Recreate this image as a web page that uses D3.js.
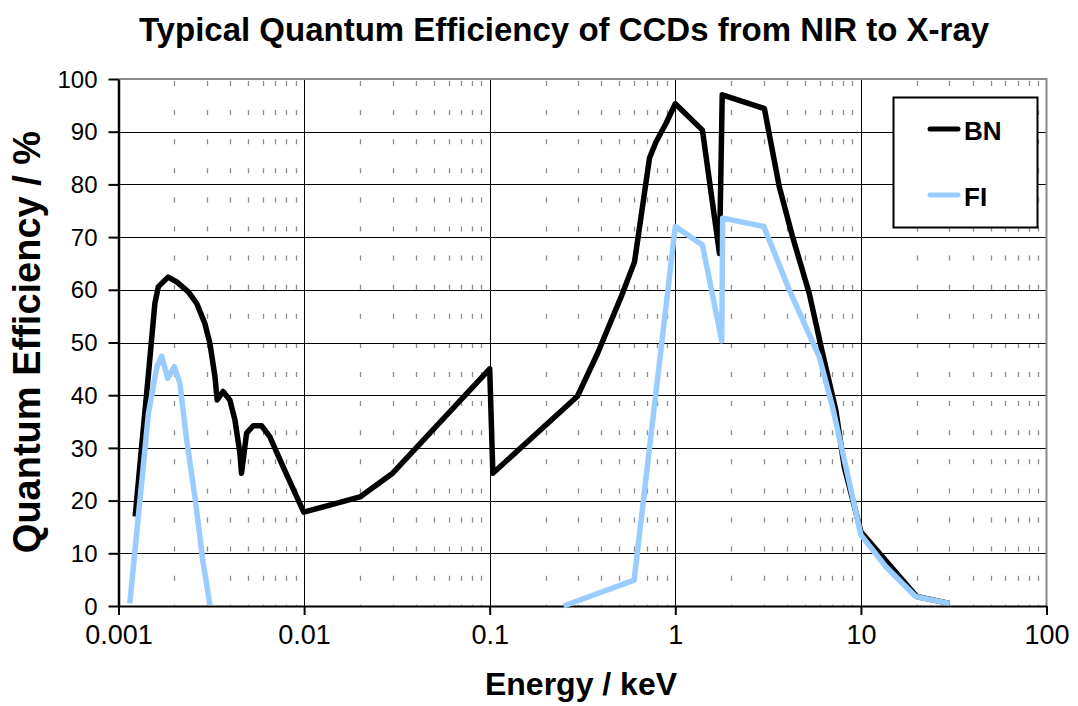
<!DOCTYPE html>
<html>
<head>
<meta charset="utf-8">
<script src="https://cdn.jsdelivr.net/npm/d3@7"></script>
<style>
  body { margin: 0; background: #fff; }
  svg { display: block; }
  text { font-family: Arial, "Liberation Sans", sans-serif; fill: #000; }
</style>
</head>
<body>
<svg id="chart" width="1078" height="706"></svg>
<script>
// Axis ticks
const xTicks = [0.001, 0.01, 0.1, 1, 10, 100];
const xTickLabels = ["0.001", "0.01", "0.1", "1", "10", "100"];
const yTicks = [0, 10, 20, 30, 40, 50, 60, 70, 80, 90, 100];

// Back-illuminated (BN) CCD: energy in keV, quantum efficiency in %
const bnEnergy = [0.00123, 0.00133, 0.00145, 0.00157, 0.00164, 0.00185, 0.00206, 0.00238,
  0.00264, 0.00292, 0.00311, 0.00331, 0.0034, 0.00366, 0.00398, 0.00424, 0.00451, 0.0046,
  0.0049, 0.00532, 0.0059, 0.00654, 0.00771, 0.00996, 0.02, 0.03, 0.1, 0.104, 0.297, 0.382,
  0.511, 0.603, 0.726, 0.788, 0.892, 1.0, 1.40, 1.73, 1.79, 3.02, 3.63, 4.28, 5.27, 6.21,
  7.33, 8.13, 10, 20, 30];
const bnQE = [17, 30, 44, 57.4, 60.6, 62.4, 61.5, 59.6,
  57.4, 53.6, 49.8, 43.5, 39.1, 40.7, 39.1, 35.3, 29.0, 25.2,
  32.8, 34.2, 34.2, 32.1, 26.4, 17.8, 20.7, 25.2, 45, 25.2, 39.8, 48,
  58.7, 65.3, 85, 88.1, 91.6, 95.3, 90.3, 66.9, 97, 94.4, 79.6, 70.1, 59.3, 48,
  37.1, 26.4, 14.1, 1.8, 0.5];

// Front-illuminated (FI) CCD; null marks the range with no data
const fiEnergy = [0.00115, 0.00131, 0.00145, 0.00161, 0.00171, 0.00184, 0.0020, 0.00214,
  0.00233, 0.00258, 0.00286, 0.00311, 0.03, 0.25, 0.60, 1.0, 1.40, 1.78, 1.80, 3.0, 4.11,
  5.96, 7.03, 8.30, 10, 13.6, 19.7, 30];
const fiQE = [0.5, 20.7, 36.6, 45.4, 47.4, 43.2, 45.4, 42.3,
  31.5, 20.7, 8.1, 0.2, null, 0, 4.9, 72, 68.5, 50.3, 73.6, 72, 60,
  47.3, 37.8, 26.4, 13.5, 7.5, 1.8, 0.5];

const seriesNames = ["BN", "FI"];
const seriesColors = ["#000000", "#99ccff"];

const svg = d3.select("#chart");
const plotLeft = 118.5, plotRight = 1046.5, plotTop = 79, plotBottom = 606;

const x = d3.scaleLog().domain([0.001, 100]).range([plotLeft, plotRight]);
const y = d3.scaleLinear().domain([0, 100]).range([plotBottom, plotTop]);

// Minor (dashed) vertical grid at 2..9 of each decade
const minor = [];
xTicks.slice(0, -1).forEach(d => { for (let k = 2; k <= 9; k++) minor.push(d * k); });
svg.append("g").selectAll("line").data(minor).join("line")
  .attr("x1", d => Math.round(x(d)) + 0.5).attr("x2", d => Math.round(x(d)) + 0.5)
  .attr("y1", plotTop + 2).attr("y2", plotBottom)
  .attr("stroke", "#8c8c8c").attr("stroke-width", 1.3)
  .attr("stroke-dasharray", "5,24.1");

// Major horizontal grid
svg.append("g").selectAll("line").data(yTicks.filter(v => v > 0 && v < 100)).join("line")
  .attr("x1", plotLeft).attr("x2", plotRight)
  .attr("y1", d => Math.round(y(d)) + 0.5).attr("y2", d => Math.round(y(d)) + 0.5)
  .attr("stroke", "#000").attr("stroke-width", 1.2);

// Major vertical grid at decades
svg.append("g").selectAll("line").data(xTicks.slice(1, -1)).join("line")
  .attr("x1", d => Math.round(x(d)) + 0.5).attr("x2", d => Math.round(x(d)) + 0.5)
  .attr("y1", plotTop).attr("y2", plotBottom)
  .attr("stroke", "#000").attr("stroke-width", 1);

// Plot frame (top and right)
svg.append("path")
  .attr("d", `M${plotLeft},${plotTop}H${plotRight}V${plotBottom}`)
  .attr("fill", "none").attr("stroke", "#8a8a8a").attr("stroke-width", 2);

// Axes
const xAxis = svg.append("g").attr("transform", `translate(0,${plotBottom})`)
  .call(d3.axisBottom(x).tickValues(xTicks).tickFormat((d, i) => xTickLabels[i]).tickSize(9).tickSizeOuter(0));
xAxis.select(".domain").attr("stroke", "#000").attr("stroke-width", 2);
xAxis.selectAll(".tick line").attr("stroke", "#000").attr("stroke-width", 2);
xAxis.selectAll(".tick text")
  .attr("y", 38).attr("dy", 0)
  .style("font-size", "27px").style("font-family", "Arial, 'Liberation Sans', sans-serif").attr("fill", "#000");

const yAxis = svg.append("g").attr("transform", `translate(${plotLeft},0)`)
  .call(d3.axisLeft(y).tickValues(yTicks).tickSize(10).tickSizeOuter(0));
yAxis.select(".domain").attr("stroke", "#000").attr("stroke-width", 2.5);
yAxis.selectAll(".tick line").attr("stroke", "#000").attr("stroke-width", 2);
yAxis.selectAll(".tick text")
  .attr("x", -21).attr("dy", "0.34em")
  .style("font-size", "24px").style("font-family", "Arial, 'Liberation Sans', sans-serif").attr("fill", "#000");

// Series lines
const line = d3.line()
  .defined(d => d[1] != null)
  .x(d => x(d[0])).y(d => y(d[1]));

const bnPts = bnEnergy.map((e, i) => [e, bnQE[i]]);
const fiPts = fiEnergy.map((e, i) => [e, fiQE[i]]);
[bnPts, fiPts].forEach((pts, i) => {
  svg.append("path").datum(pts)
    .attr("d", line)
    .attr("fill", "none")
    .attr("stroke", seriesColors[i])
    .attr("stroke-width", 5.5)
    .attr("stroke-linejoin", "round")
    .attr("stroke-linecap", "butt");
});

// Legend
const lg = svg.append("g");
lg.append("rect").attr("x", 893.5).attr("y", 97.5).attr("width", 144).attr("height", 130)
  .attr("fill", "#fff").attr("stroke", "#000").attr("stroke-width", 2);
seriesNames.forEach((name, i) => {
  const ly = 129 + i * 66;
  lg.append("line").attr("x1", 930).attr("x2", 958).attr("y1", ly).attr("y2", ly)
    .attr("stroke", seriesColors[i]).attr("stroke-width", 5).attr("stroke-linecap", "round");
  lg.append("text").attr("x", 964).attr("y", ly + 11)
    .style("font-size", "26px").style("font-weight", "bold").text(name);
});

// Titles
svg.append("text").attr("x", 564).attr("y", 41).attr("text-anchor", "middle")
  .style("font-size", "33px").style("font-weight", "bold")
  .text("Typical Quantum Efficiency of CCDs from NIR to X-ray");
svg.append("text").attr("x", 581).attr("y", 695).attr("text-anchor", "middle")
  .style("font-size", "32px").style("font-weight", "bold")
  .text("Energy / keV");
svg.append("text").attr("transform", "translate(40,342) rotate(-90)").attr("text-anchor", "middle")
  .style("font-size", "38px").style("font-weight", "bold")
  .text("Quantum Efficiency / %");
</script>
</body>
</html>
